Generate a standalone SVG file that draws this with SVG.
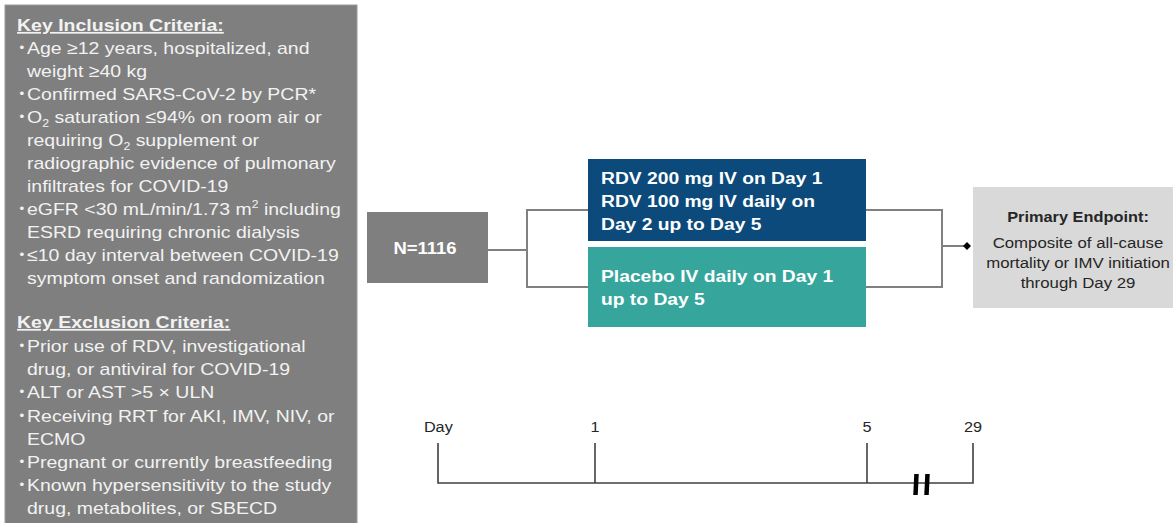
<svg xmlns="http://www.w3.org/2000/svg" width="1173" height="523" viewBox="0 0 1173 523">
<style>
.pt{font-family:"Liberation Sans",Arial,sans-serif;font-size:17.4px;fill:#f2f2f2}
.ph{font-weight:bold;text-decoration:underline}
.sub{font-size:11px}
.bu{font-size:12px}
.bt{font-family:"Liberation Sans",Arial,sans-serif;font-size:17.2px;font-weight:bold;fill:#ffffff}
.et{font-family:"Liberation Sans",Arial,sans-serif;font-size:15px;fill:#262626;text-anchor:middle}
.tl{font-family:"Liberation Sans",Arial,sans-serif;font-size:14.5px;fill:#262626}
.conn{fill:none;stroke:#808080;stroke-width:2}
.tick{fill:none;stroke:#404040;stroke-width:1.6}
</style>
<rect width="1173" height="523" fill="#ffffff"/>

<g id="criteria">
<rect x="5" y="5" width="352" height="530" fill="#7f7f7f" stroke="#9a9a9a" stroke-width="1"/>
<g transform="scale(1.12,1)" class="pt">
<text x="15.2" y="31" class="ph">Key Inclusion Criteria:</text>
<text x="17.4" y="52" class="bu">•</text><text x="24.1" y="54">Age ≥12 years, hospitalized, and</text>
<text x="24.1" y="77">weight ≥40 kg</text>
<text x="17.4" y="98" class="bu">•</text><text x="24.1" y="100">Confirmed SARS-CoV-2 by PCR*</text>
<text x="17.4" y="121" class="bu">•</text><text x="24.1" y="123">O<tspan class="sub" dy="4">2</tspan><tspan dy="-4"> saturation ≤94% on room air or</tspan></text>
<text x="24.1" y="146">requiring O<tspan class="sub" dy="4">2</tspan><tspan dy="-4"> supplement or</tspan></text>
<text x="24.1" y="169">radiographic evidence of pulmonary</text>
<text x="24.1" y="192">infiltrates for COVID-19</text>
<text x="17.4" y="213" class="bu">•</text><text x="24.1" y="215">eGFR &lt;30 mL/min/1.73 m<tspan class="sub" dy="-7">2</tspan><tspan dy="7"> including</tspan></text>
<text x="24.1" y="238">ESRD requiring chronic dialysis</text>
<text x="17.4" y="259" class="bu">•</text><text x="24.1" y="261">≤10 day interval between COVID-19</text>
<text x="24.1" y="284">symptom onset and randomization</text>
<text x="15.2" y="328" class="ph">Key Exclusion Criteria:</text>
<text x="17.4" y="350" class="bu">•</text><text x="24.1" y="352">Prior use of RDV, investigational</text>
<text x="24.1" y="375">drug, or antiviral for COVID-19</text>
<text x="17.4" y="396" class="bu">•</text><text x="24.1" y="398">ALT or AST &gt;5 × ULN</text>
<text x="17.4" y="420" class="bu">•</text><text x="24.1" y="422">Receiving RRT for AKI, IMV, NIV, or</text>
<text x="24.1" y="445">ECMO</text>
<text x="17.4" y="466" class="bu">•</text><text x="24.1" y="468">Pregnant or currently breastfeeding</text>
<text x="17.4" y="489" class="bu">•</text><text x="24.1" y="491">Known hypersensitivity to the study</text>
<text x="24.1" y="514">drug, metabolites, or SBECD</text>
</g>
</g>

<g id="connectors">
<polyline class="conn" points="488,250 527,250"/>
<polyline class="conn" points="588,210 527,210 527,287 588,287"/>
<polyline class="conn" points="866,210 942,210 942,287 866,287"/>
<polyline class="conn" points="942,246 965,246"/>
<polygon points="967,242 971,246 967,250 963,246" fill="#000000"/>
</g>

<g id="n-box">
<rect x="367" y="212" width="121" height="71" fill="#7f7f7f"/>
<g transform="scale(1.12,1)"><text x="379.5" y="254" class="bt" text-anchor="middle" style="font-size:16.5px">N=1116</text></g>
</g>

<g id="rdv-arm">
<rect x="588" y="159" width="278" height="82" fill="#0b4a7a"/>
<g transform="scale(1.12,1)" class="bt">
<text x="536.6" y="184">RDV 200 mg IV on Day 1</text>
<text x="536.6" y="207">RDV 100 mg IV daily on</text>
<text x="536.6" y="230">Day 2 up to Day 5</text>
</g>
</g>

<g id="placebo-arm">
<rect x="588" y="247" width="278" height="80" fill="#36a69d"/>
<g transform="scale(1.12,1)" class="bt">
<text x="536.6" y="282">Placebo IV daily on Day 1</text>
<text x="536.6" y="305">up to Day 5</text>
</g>
</g>

<g id="endpoint">
<rect x="973" y="187" width="200" height="121" fill="#d9d9d9"/>
<g transform="scale(1.12,1)">
<text x="962.5" y="222" class="et" style="font-weight:bold;font-size:14.6px">Primary Endpoint:</text>
<text x="962.5" y="248" class="et">Composite of all-cause</text>
<text x="962.5" y="268" class="et">mortality or IMV initiation</text>
<text x="962.5" y="288" class="et">through Day 29</text>
</g>
</g>

<g id="timeline">
<polyline class="tick" points="438,443 438,483 973,483 973,443"/>
<line class="tick" x1="595" y1="443" x2="595" y2="483"/>
<line class="tick" x1="867" y1="443" x2="867" y2="483"/>
<line x1="915.5" y1="495" x2="916.5" y2="474" stroke="#000000" stroke-width="4.5"/>
<line x1="926.5" y1="495" x2="927.5" y2="474" stroke="#000000" stroke-width="4.5"/>
<g transform="scale(1.12,1)" class="tl">
<text x="378.5" y="432">Day</text>
<text x="531.3" y="432" text-anchor="middle">1</text>
<text x="774.1" y="432" text-anchor="middle">5</text>
<text x="868.8" y="432" text-anchor="middle">29</text>
</g>
</g>
</svg>
